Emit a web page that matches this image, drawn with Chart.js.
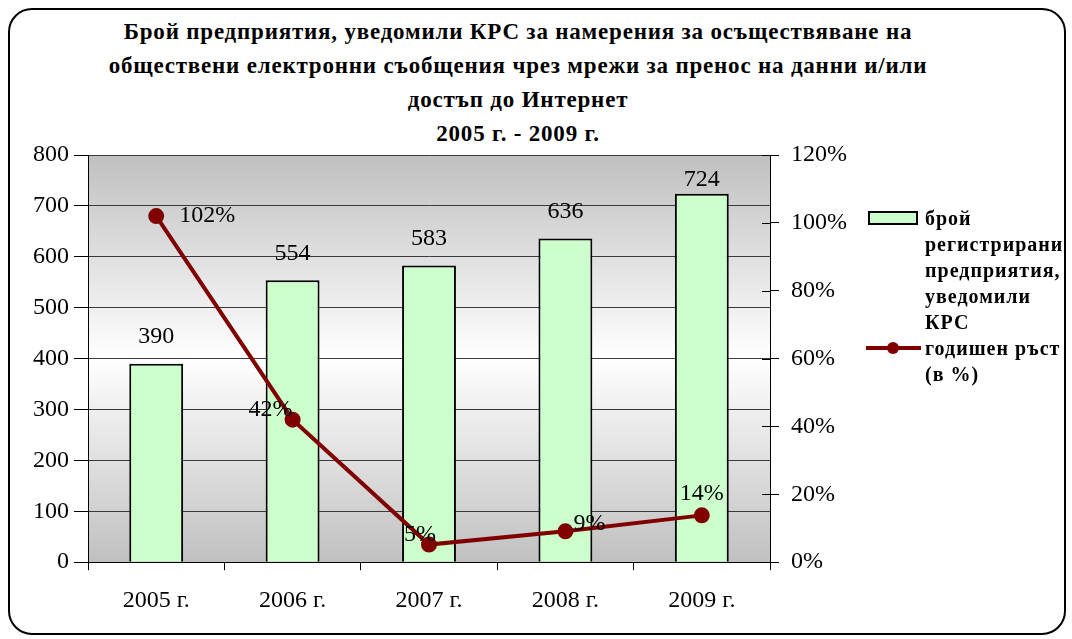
<!DOCTYPE html>
<html>
<head>
<meta charset="utf-8">
<script src="https://cdn.jsdelivr.net/npm/chart.js@4"></script>
<style>
  body { margin: 0; background: #fff; }
  #wrap { position: relative; width: 1072px; height: 639px; overflow: hidden; }
  #frame { position: absolute; left: 8px; top: 8px; width: 1058px; height: 627px; box-sizing: border-box;
           border: 2px solid #000; border-radius: 24px; }
  #title { position: absolute; left: 0; top: 15px; width: 1036px; text-align: center;
           font: bold 23px "Liberation Serif", serif; line-height: 34px; color: #000; letter-spacing: 0.8px; }
  #legend { position: absolute; left: 866px; top: 205px; font: bold 20px "Liberation Serif", serif;
            line-height: 26px; color: #000; letter-spacing: 1px; }
  .item { position: relative; padding-left: 59px; }
  .box { position: absolute; left: 2px; top: 6px; width: 50px; height: 14px; box-sizing: border-box;
         background: #ccffcc; border: 2px solid #000; }
  .ln { position: absolute; left: 0; top: 11px; width: 55px; height: 4px; background: #800000; }
  .dot { position: absolute; left: 21px; top: 7px; width: 12px; height: 12px; border-radius: 50%; background: #800000; }
  canvas { position: absolute; left: 0; top: 0; }
</style>
</head>
<body>
<div id="wrap">
  <div id="frame"></div>
  <div id="title">Брой предприятия, уведомили КРС за намерения за осъществяване на<br>обществени електронни съобщения чрез мрежи за пренос на данни и/или<br>достъп до Интернет<br>2005 г. - 2009 г.</div>
  <canvas id="myChart" width="1072" height="639"></canvas>
  <div id="legend">
    <div class="item"><span class="box"></span>брой<br>регистрирани<br>предприятия,<br>уведомили<br>КРС</div>
    <div class="item"><span class="ln"></span><span class="dot"></span>годишен ръст<br>(в %)</div>
  </div>
</div>
<script>
const years = ['2005 г.', '2006 г.', '2007 г.', '2008 г.', '2009 г.'];
const companies = [390, 554, 583, 636, 724];
const growth = [102, 42, 5.2, 9.1, 13.8];
const growthLabels = ['102%', '42%', '5%', '9%', '14%'];

// label placement for the growth line: dx, dy, align
const growthLabelPlace = [[23, 0, 'left'], [0, -10, 'right'], [7, -10, 'right'], [8, -8, 'left'], [0, -22, 'center']];

const serif = '"Liberation Serif", "Times New Roman", serif';

const bgPlugin = {
  id: 'bg',
  beforeDraw(chart) {
    const { ctx, chartArea: a } = chart;
    const g = ctx.createLinearGradient(0, a.top, 0, a.bottom);
    g.addColorStop(0, '#c0c0c0');
    g.addColorStop(0.5, '#ffffff');
    g.addColorStop(1, '#c0c0c0');
    ctx.save();
    ctx.fillStyle = g;
    ctx.fillRect(a.left, a.top, a.right - a.left, a.bottom - a.top);
    ctx.restore();
  }
};

const labelPlugin = {
  id: 'labels',
  afterDatasetsDraw(chart) {
    const ctx = chart.ctx;
    const a = chart.chartArea;
    ctx.save();
    ctx.font = '24px ' + serif;
    ctx.fillStyle = '#000';
    ctx.textBaseline = 'middle';
    ctx.textAlign = 'center';
    chart.getDatasetMeta(1).data.forEach((bar, i) => {
      const y = Math.max(bar.y - 27, a.top + 25);
      ctx.fillText(companies[i], bar.x, y);
    });
    chart.getDatasetMeta(0).data.forEach((pt, i) => {
      const p = growthLabelPlace[i];
      ctx.textAlign = p[2];
      ctx.fillText(growthLabels[i], pt.x + p[0], pt.y + p[1]);
    });
    // right axis tick marks reach into the plot
    const s = chart.scales.y1;
    ctx.strokeStyle = '#000';
    ctx.lineWidth = 1;
    s.ticks.forEach(t => {
      const y = Math.round(s.getPixelForValue(t.value)) + 0.5;
      ctx.beginPath();
      ctx.moveTo(s.left - 8, y);
      ctx.lineTo(s.left, y);
      ctx.stroke();
    });
    ctx.restore();
  }
};

new Chart(document.getElementById('myChart'), {
  data: {
    labels: years,
    datasets: [
      {
        type: 'line',
        label: 'годишен ръст (в %)',
        data: growth,
        yAxisID: 'y1',
        borderColor: '#800000',
        backgroundColor: '#800000',
        borderWidth: 4,
        pointRadius: 6,
        pointHoverRadius: 6,
        tension: 0,
        order: 0,
        clip: false
      },
      {
        type: 'bar',
        label: 'брой регистрирани предприятия, уведомили КРС',
        data: companies,
        yAxisID: 'y',
        backgroundColor: '#ccffcc',
        borderColor: '#000',
        borderWidth: 2,
        barPercentage: 0.395,
        categoryPercentage: 1,
        order: 1
      }
    ]
  },
  options: {
    responsive: false,
    animation: false,
    events: [],
    layout: { padding: { top: 155, left: 28, right: 213, bottom: 8 } },
    plugins: {
      legend: { display: false },
      title: { display: false },
      tooltip: { enabled: false }
    },
    scales: {
      x: {
        grid: { drawOnChartArea: false, tickLength: 8, tickColor: '#000', offset: true },
        border: { color: '#000', width: 1 },
        ticks: { color: '#000', padding: 16, font: { family: serif, size: 24 } }
      },
      y: {
        position: 'left',
        min: 0, max: 800,
        ticks: { stepSize: 100, color: '#000', padding: 5, font: { family: serif, size: 24 } },
        grid: { color: '#3a3a3a', tickColor: '#000', tickLength: 14 },
        border: { color: '#000', width: 1 }
      },
      y1: {
        position: 'right',
        min: 0, max: 120,
        ticks: { stepSize: 20, color: '#000', padding: 12, font: { family: serif, size: 24 },
                 callback: v => v + '%' },
        grid: { drawOnChartArea: false, tickColor: '#000', tickLength: 9 },
        border: { color: '#000', width: 1 }
      }
    }
  },
  plugins: [bgPlugin, labelPlugin]
});
</script>
</body>
</html>
